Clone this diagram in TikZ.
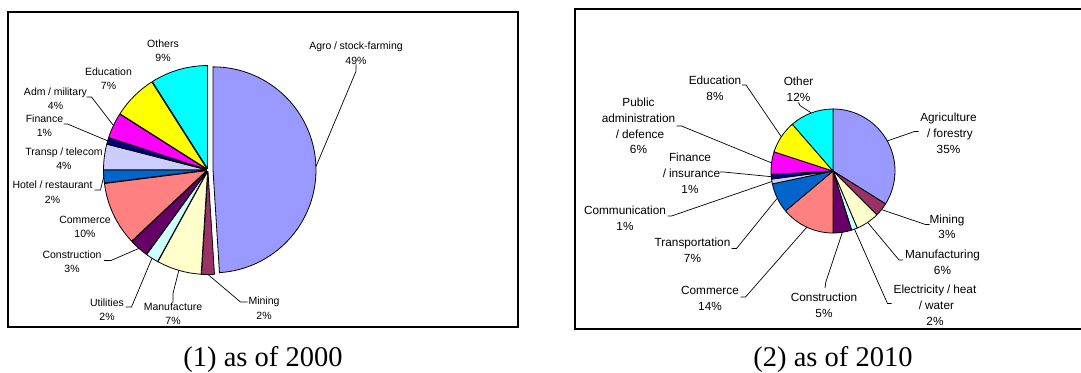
\documentclass[tikz,border=0pt]{standalone}
\usepackage{fontspec}
\setmainfont{Liberation Serif}
\newfontfamily\lblfont{Liberation Sans}
\usetikzlibrary{calc}

% sector colours
\definecolor{cAgro}{HTML}{9999FF}
\definecolor{cMining}{HTML}{993366}
\definecolor{cManuf}{HTML}{FFFFCC}
\definecolor{cUtil}{HTML}{CCFFFF}
\definecolor{cConstr}{HTML}{660066}
\definecolor{cComm}{HTML}{FF8080}
\definecolor{cHotel}{HTML}{0066CC}
\definecolor{cTransp}{HTML}{CCCCFF}
\definecolor{cFin}{HTML}{000080}
\definecolor{cAdm}{HTML}{FF00FF}
\definecolor{cEduc}{HTML}{FFFF00}
\definecolor{cOther}{HTML}{00FFFF}

% wide slash used in the sector names
\newcommand\fsl{\kern.25em/\kern.25em}

% one pie sector: #1 centre, #2 start angle, #3 end angle, #4 radius (pt), #5 colour, #6 pull-out (pt)
\newcommand\pieslice[6]{%
  \pgfmathsetmacro\slicemid{((#2)+(#3))/2}%
  \filldraw[wedge, fill=#5, shift={#1}, shift={(\slicemid:#6pt)}]
    (0,0) -- (#2:#4pt) arc[start angle=#2, end angle=#3, radius=#4pt] -- cycle;
}

\tikzset{
  frame/.style={draw=black, line width=2pt},
  wedge/.style={draw=black, line width=0.8pt, line join=round},
  leader/.style={draw=black, line width=0.7pt},
  lblA/.style={font=\lblfont\fontsize{10.5}{14.5}\selectfont, align=center, inner sep=0pt},
  lblB/.style={font=\lblfont\fontsize{11.8}{15.8}\selectfont, align=center, inner sep=0pt},
  capt/.style={font=\fontsize{28.5}{34}\selectfont, inner sep=0pt, anchor=base},
}

\begin{document}
\begin{tikzpicture}[x=1pt, y=-1pt]
\useasboundingbox (0,0) rectangle (1081,372);
\fill[white] (0,0) rectangle (1081,372);

% ---------- chart (1): 2000 ----------
\draw[frame] (8,12) rectangle (518,327);

\pieslice{(208,170)}{90}{-86.4}{103}{cAgro}{5}
\pieslice{(208,170)}{-86.4}{-93.6}{103}{cMining}{1.5}
\pieslice{(208,170)}{-93.6}{-118.8}{103}{cManuf}{1.5}
\pieslice{(208,170)}{-118.8}{-126}{103}{cUtil}{1.5}
\pieslice{(208,170)}{-126}{-136.8}{103}{cConstr}{1.5}
\pieslice{(208,170)}{-136.8}{-172.8}{103}{cComm}{1.5}
\pieslice{(208,170)}{-172.8}{-180}{103}{cHotel}{1.5}
\pieslice{(208,170)}{-180}{-194.4}{103}{cTransp}{1.5}
\pieslice{(208,170)}{-194.4}{-198}{103}{cFin}{1.5}
\pieslice{(208,170)}{-198}{-212.4}{103}{cAdm}{1.5}
\pieslice{(208,170)}{-212.4}{-237.6}{103}{cEduc}{1.5}
\pieslice{(208,170)}{-237.6}{-270}{103}{cOther}{1.5}

\node[lblA] (agroLab)   at (356,53)    {Agro\fsl stock-farming\\49\%};
\node[lblA] (othersLab) at (163,50.8)  {Others\\9\%};
\node[lblA] (educLab)   at (108.5,78.8){Education\\7\%};
\node[lblA] (admLab)    at (55.5,98.5) {Adm\fsl military\\4\%};
\node[lblA] (finLab)    at (44.5,125.8){Finance\\1\%};
\node[lblA] (transpLab) at (64,158.8)  {Transp\fsl telecom\\4\%};
\node[lblA] (hotelLab)  at (52.5,192)  {Hotel\fsl restaurant\\2\%};
\node[lblA] (commLab)   at (85,226.7)  {Commerce\\10\%};
\node[lblA] (constrLab) at (72,261.8)  {Construction\\3\%};
\node[lblA] (utilLab)   at (107,309.7) {Utilities\\2\%};
\node[lblA] (manufLab)  at (173,313.7) {Manufacture\\7\%};
\node[lblA] (miningLab) at (264,308.2) {Mining\\2\%};

\coordinate (agroP)   at ([shift={(208,170)}]1.8:108pt);
\coordinate (miningP) at ([shift={(208,170)}]-90:104.5pt);
\coordinate (manufP)  at ([shift={(208,170)}]-106.2:104.5pt);
\coordinate (utilP)   at ([shift={(208,170)}]-122.4:104.5pt);
\coordinate (constrP) at ([shift={(208,170)}]-131.4:104.5pt);
\coordinate (hotelP)  at ([shift={(208,170)}]-176.4:104.5pt);
\coordinate (finP)    at ([shift={(208,170)}]-196.2:104.5pt);
\coordinate (admP)    at ([shift={(208,170)}]-205.2:104.5pt);

\coordinate (miningS) at (247.5,302);
\coordinate (utilS)   at (125.5,307);
\coordinate (constrS) at (104,260.5);
\coordinate (hotelS)  at (94.5,190);
\coordinate (finS)    at (63.5,124);
\coordinate (admS)    at (86.5,97);

\draw[leader] (agroLab.south) -- ++(0,7) -- (agroP);
\draw[leader] (miningS) -- ++(-7,0) -- (miningP);
\draw[leader] (manufLab.north) -- ++(0,-9) -- (manufP);
\draw[leader] (utilS) -- ++(6,0) -- (utilP);
\draw[leader] (constrS) -- ++(7,0) -- (constrP);
\draw[leader] (hotelS) -- ++(6,0) -- (hotelP);
\draw[leader] (finS) -- ++(4,0) -- (finP);
\draw[leader] (admS) -- ++(5,0) -- (admP);

\node[capt] (capA) at (263,366) {(1) as of 2000};

% ---------- chart (2): 2010 ----------
\draw[frame] (575,9) rectangle (1092,329);

\pieslice{(833,171)}{90}{-32}{62}{cAgro}{0}
\pieslice{(833,171)}{-32}{-45}{62}{cMining}{0}
\pieslice{(833,171)}{-45}{-67}{62}{cManuf}{0}
\pieslice{(833,171)}{-67}{-72.5}{62}{cUtil}{0}
\pieslice{(833,171)}{-72.5}{-90}{62}{cConstr}{0}
\pieslice{(833,171)}{-90}{-140}{62}{cComm}{0}
\pieslice{(833,171)}{-140}{-168}{62}{cHotel}{0}
\pieslice{(833,171)}{-168}{-172.5}{62}{cTransp}{0}
\pieslice{(833,171)}{-172.5}{-177}{62}{cFin}{0}
\pieslice{(833,171)}{-177}{-198}{62}{cAdm}{0}
\pieslice{(833,171)}{-198}{-229}{62}{cEduc}{0}
\pieslice{(833,171)}{-229}{-270}{62}{cOther}{0}

\node[lblB] (agriLab)    at (948.5,133)  {Agriculture\\\fsl forestry\\35\%};
\node[lblB] (miningBLab) at (947,226.7)  {Mining\\3\%};
\node[lblB] (manufBLab)  at (942.5,262.5){Manufacturing\\6\%};
\node[lblB] (elecLab)    at (935,305)    {Electricity\fsl heat\\\fsl water\\2\%};
\node[lblB] (constrBLab) at (824,305)    {Construction\\5\%};
\node[lblB] (commBLab)   at (710,298.5)  {Commerce\\14\%};
\node[lblB] (transBLab)  at (692.5,250.3){Transportation\\7\%};
\node[lblB] (communLab)  at (625,218)    {Communication\\1\%};
\node[lblB] (finBLab)    at (690,173)    {Finance\\\fsl insurance\\1\%};
\node[lblB] (pubLab)     at (638.5,126)  {Public\\administration\\\fsl defence\\6\%};
\node[lblB] (educBLab)   at (715,88)     {Education\\8\%};
\node[lblB] (otherBLab)  at (798.5,89)   {Other\\12\%};

\coordinate (agriP)    at ([shift={(833,171)}]29:62pt);
\coordinate (miningBP) at ([shift={(833,171)}]-38.5:62pt);
\coordinate (manufBP)  at ([shift={(833,171)}]-56:62pt);
\coordinate (elecP)    at ([shift={(833,171)}]-69.75:62pt);
\coordinate (constrBP) at ([shift={(833,171)}]-81.25:62pt);
\coordinate (commBP)   at ([shift={(833,171)}]-115:62pt);
\coordinate (transBP)  at ([shift={(833,171)}]-154:62pt);
\coordinate (communP)  at ([shift={(833,171)}]-170.25:62pt);
\coordinate (finBP)    at ([shift={(833,171)}]-174.75:62pt);
\coordinate (pubP)     at ([shift={(833,171)}]-187.5:62pt);
\coordinate (educBP)   at ([shift={(833,171)}]-213.5:62pt);
\coordinate (otherBP)  at ([shift={(833,171)}]-249.5:62pt);

\coordinate (agriS)    at (918.5,131.5);
\coordinate (miningBS) at (929.5,224.5);
\coordinate (manufBS)  at (903,260);
\coordinate (elecS)    at (891.5,303.5);
\coordinate (constrBS) at (825,288);
\coordinate (commBS)   at (740.5,297);
\coordinate (transBS)  at (731.5,248.5);
\coordinate (communS)  at (667.5,216);
\coordinate (finBS)    at (719.5,172);
\coordinate (pubS)     at (676.5,126);
\coordinate (educBS)   at (742,85);
\coordinate (otherBS)  at (798.5,102.5);

\draw[leader] (agriS) -- ++(-4,0) -- (agriP);
\draw[leader] (miningBS) -- ++(-4,0) -- (miningBP);
\draw[leader] (manufBS) -- ++(-4,0) -- (manufBP);
\draw[leader] (elecS) -- ++(-4,0) -- (elecP);
\draw[leader] (constrBS) -- ++(0.8,-6) -- (constrBP);
\draw[leader] (commBS) -- ++(5,0) -- (commBP);
\draw[leader] (transBS) -- ++(5,0) -- (transBP);
\draw[leader] (communS) -- ++(4,0) -- (communP);
\draw[leader] (finBS) -- ++(4,0) -- (finBP);
\draw[leader] (pubS) -- ++(5,0) -- (pubP);
\draw[leader] (educBS) -- ++(4,0) -- (educBP);
\draw[leader] (otherBS) -- ++(1.5,3) -- (otherBP);

\node[capt] (capB) at (833,366) {(2) as of 2010};
\end{tikzpicture}
\end{document}
